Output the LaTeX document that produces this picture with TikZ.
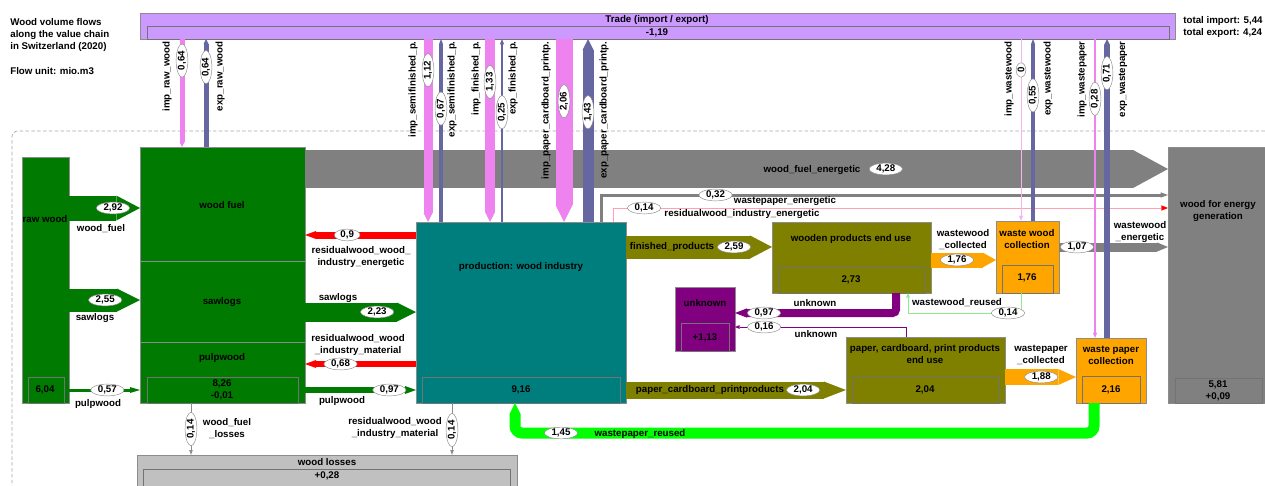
\documentclass[tikz,border=0pt]{standalone}
\usepackage{fontspec}
\setmainfont{Liberation Sans}
\usepackage{tikz}
\usetikzlibrary{arrows.meta, fit, shapes.geometric}

\definecolor{woodgreen}{RGB}{0,122,0}
\definecolor{prodteal}{RGB}{0,125,125}
\definecolor{useolive}{RGB}{128,128,0}
\definecolor{collorange}{RGB}{255,165,0}
\definecolor{unkpurple}{RGB}{128,0,128}
\definecolor{energygray}{RGB}{128,128,128}
\definecolor{lossgray}{RGB}{192,192,192}
\definecolor{tradeviolet}{RGB}{204,153,255}
\definecolor{imppink}{RGB}{238,130,238}
\definecolor{expslate}{RGB}{102,102,160}
\definecolor{resred}{RGB}{255,0,0}
\definecolor{reusegreen}{RGB}{0,255,0}
\definecolor{reuselight}{RGB}{140,235,140}
\definecolor{respink}{RGB}{255,160,180}

\begin{document}
\begin{tikzpicture}[x=0.3mm, y=-0.3mm, semithick,
    font=\fontsize{8.3}{10.2}\selectfont\bfseries,
    box/.style={draw=black!45, thin, fill=#1, inner sep=0pt, outer sep=0pt},
    inbox/.style={draw=black!55, thin, inner sep=0pt, outer sep=0pt},
    flow/.style={line width=#1*0.3mm},
    headflow/.style={-{Triangle[length=0pt #1, width=0pt 1, line width=0pt]}},
    headflow/.default=1,
    headthin/.style={-{Triangle[length=1.6mm, width=1.3mm, line width=0pt]}},
    val/.style={ellipse, draw=black!45, line width=0.4pt, fill=white, text=black, inner xsep=2pt, inner ysep=0pt},
    lbl/.style={align=center, inner sep=0pt, text=black}]
                \path[use as bounding box] (0,0) rectangle (1265,485);

                \node[lbl, anchor=west, align=left] (title) at (10,35) {Wood volume flows\\along the value chain\\in Switzerland (2020)};
                \node[lbl, anchor=west] (unit) at (10,71) {Flow unit: mio.m3};

                \node[box=tradeviolet, fit={(140,13) (1175,39)}] (trade) {};
                \node[inbox, fit={(147,26) (1169,39)}] (tradein) {};
                \node[lbl] (tradetitle) at (657,20) {Trade (import / export)};
                \node[lbl] (tradebal) at (657,33) {-1,19};
                \node[lbl, anchor=west, align=left] (totals) at (1183,27) {total import: 5,44\\total export: 4,24};

                \draw[black!35, densely dashed, rounded corners=5pt] (12,495) -- (12,131) -- (1275,131);

                \node[box=woodgreen, fit={(22,157) (69,403)}] (rawwood) {};
                \node[inbox, fit={(28,377) (64,403)}] (rawwoodin) {};
                \node[lbl] (rawwoodtitle) at (45,219) {raw wood};
                \node[lbl] (rawwoodval) at (45,390) {6,04};

                \node[box=woodgreen, fit={(140,147) (305,261)}] (woodfuel) {};
                \node[box=woodgreen, fit={(140,261) (305,342)}] (sawlogs) {};
                \node[box=woodgreen, fit={(140,342) (305,403)}] (pulpwood) {};
                \node[inbox, fit={(147,377) (298,403)}] (pulpwoodin) {};
                \node[lbl] (woodfueltitle) at (222,205) {wood fuel};
                \node[lbl] (sawlogstitle) at (222,302) {sawlogs};
                \node[lbl] (pulpwoodtitle) at (222,358) {pulpwood};
                \node[lbl] (pulpwoodval) at (222,390) {8,26\\-0,01};

                \node[box=prodteal, fit={(416,222) (626,403)}] (prod) {};
                \node[inbox, fit={(422,377) (620,403)}] (prodin) {};
                \node[lbl] (prodtitle) at (521,267) {production: wood industry};
                \node[lbl] (prodval) at (521,390) {9,16};

                \node[box=useolive, fit={(772,222) (931,293)}] (wooden) {};
                \node[inbox, fit={(778,267) (925,293)}] (woodenin) {};
                \node[lbl] (woodentitle) at (851,239) {wooden products end use};
                \node[lbl] (woodenval) at (851,280) {2,73};

                \node[box=collorange, fit={(996,221) (1059,293)}] (wwcoll) {};
                \node[inbox, fit={(1002,265) (1053,293)}] (wwcollin) {};
                \node[lbl] (wwcolltitle) at (1027,239) {waste wood\\collection};
                \node[lbl] (wwcollval) at (1027,278) {1,76};

                \node[box=energygray, fit={(1168,147) (1275,403)}] (energy) {};
                \node[inbox, fit={(1175,378) (1262,403)}] (energyin) {};
                \node[lbl] (energytitle) at (1218,211) {wood for energy\\generation};
                \node[lbl] (energyval) at (1218,391) {5,81\\+0,09};

                \node[box=unkpurple, fit={(675,287) (735,351)}] (unknown) {};
                \node[inbox, fit={(681,323) (729,351)}] (unknownin) {};
                \node[lbl] (unknowntitle) at (705,303) {unknown};
                \node[lbl] (unknownval) at (705,338) {+1,13};

                \node[box=useolive, fit={(846,337) (1005,403)}] (paper) {};
                \node[inbox, fit={(852,377) (999,403)}] (paperin) {};
                \node[lbl] (papertitle) at (925,354) {paper, cardboard, print products\\end use};
                \node[lbl] (paperval) at (925,390) {2,04};

                \node[box=collorange, fit={(1076,338) (1146,403)}] (wpcoll) {};
                \node[inbox, fit={(1082,376) (1140,403)}] (wpcollin) {};
                \node[lbl] (wpcolltitle) at (1111,355) {waste paper\\collection};
                \node[lbl] (wpcollval) at (1111,390) {2,16};

                \node[box=lossgray, fit={(137,455) (517,495)}] (losses) {};
                \node[inbox, fit={(143,469) (510,495)}] (lossesin) {};
                \node[lbl] (lossestitle) at (327,462) {wood losses};
                \node[lbl] (lossesval) at (327,476) {+0,28};

                \draw[energygray, flow=38, headflow=0.92] (woodfuel.east |- 0,169) -- (energy.west |- 0,169) node[val, pos=0.673] (v428) {4,28};
                \draw[energygray, flow=3, -{Triangle[length=2.2mm, width=1.6mm, line width=0pt]}] (prod.north -| 601,0) |- (energy.west |- 0,195) node[val, pos=0.601] (v032) {0,32};
                \draw[respink, semithick, -{Triangle[length=2mm, width=1.6mm, line width=0pt, color=resred]}] (prod.north -| 613,0) |- (energy.west |- 0,208) node[val, pos=0.528] (v014a) {0,14};

                \draw[woodgreen, flow=25, headflow=0.95] (rawwood.east |- 0,208) -- (woodfuel.west |- 0,208) node[val, pos=0.62] (v292) {2,92};
                \draw[woodgreen, flow=23, headflow] (rawwood.east |- 0,300) -- (sawlogs.west |- 0,300) node[val, pos=0.51] (v255) {2,55};
                \draw[woodgreen, flow=3, -{Triangle[length=3mm, width=1.8mm, line width=0pt]}] (rawwood.east |- 0,390) -- (pulpwood.west |- 0,390) node[val, pos=0.54] (v057) {0,57};
                \draw[woodgreen, flow=19, headflow] (sawlogs.east |- 0,312) -- (prod.west |- 0,312) node[val, pos=0.65] (v223) {2,23};
                \draw[woodgreen, flow=6, -{Triangle[length=3.3mm, width=2.4mm, line width=0pt]}] (pulpwood.east |- 0,390) -- (prod.west |- 0,390) node[val, pos=0.76] (v097a) {0,97};
                \draw[resred, flow=7, -{Triangle[length=3.3mm, width=2.4mm, line width=0pt]}] (prod.west |- 0,235) -- (woodfuel.east |- 0,235) node[val, pos=0.62] (v09) {0,9};
                \draw[resred, flow=6, -{Triangle[length=3.3mm, width=2.4mm, line width=0pt]}] (prod.west |- 0,364) -- (pulpwood.east |- 0,364) node[val, pos=0.68] (v068) {0,68};

                \draw[black!45, thin, -{Triangle[length=1.5mm, width=1.1mm, line width=0pt]}] (pulpwood.south -| 191,0) -- (losses.north -| 191,0) node[val, rotate=90, pos=0.5] (v014b) {0,14};
                \draw[black!45, thin, -{Triangle[length=1.5mm, width=1.1mm, line width=0pt]}] (prod.south -| 452,0) -- (losses.north -| 452,0) node[val, rotate=90, pos=0.52] (v014c) {0,14};

                \draw[useolive, flow=23, headflow=0.95] (prod.east |- 0,247) -- (wooden.west |- 0,247) node[val, pos=0.74] (v259) {2,59};
                \draw[useolive, flow=17, headflow=1.3] (prod.east |- 0,390) -- (paper.west |- 0,390) node[val, pos=0.805] (v204) {2,04};
                \draw[collorange, flow=15, headflow=0.9] (wooden.east |- 0,260) -- (wwcoll.west |- 0,260) node[val, pos=0.4] (v176) {1,76};
                \draw[collorange, flow=16, headflow=1.1] (paper.east |- 0,377) -- (wpcoll.west |- 0,377) node[val, pos=0.51] (v188) {1,88};
                \draw[energygray, flow=9, headflow=1.2] (wwcoll.east |- 0,247) -- (energy.west |- 0,247) node[val, pos=0.165] (v107) {1,07};

                \draw[reuselight, semithick, -{Triangle[length=1.4mm, width=1.2mm, line width=0pt]}] (wwcoll.south -| 1021,0) -- ++(0,20) -| (wooden.south -| 908,0);
                \node[val] (v014d) at (1008,313) {0,14};
                \draw[unkpurple, flow=8, rounded corners=3pt, -{Triangle[length=3.6mm, width=2.8mm, line width=0pt]}] (wooden.south -| 896,0) |- (unknown.east |- 0,313) node[val, pos=0.91] (v097b) {0,97};
                \draw[unkpurple, semithick, -{Triangle[length=1.4mm, width=1.2mm, line width=0pt]}] (paper.north -| 906,0) |- (unknown.east |- 0,327) node[val, pos=0.915] (v016) {0,16};
                \draw[reusegreen, flow=11, rounded corners=6pt, headflow] (wpcoll.south -| 1094,0) -- ++(0,30) -| (prod.south -| 515,0);
                \node[val] (v145) at (561,433) {1,45};

                \draw[imppink, flow=5, headflow] (trade.south -| 182,0) -- (woodfuel.north -| 182,0) node[val, rotate=90, pos=0.2] (vimpraw) {0,64};
                \draw[expslate, flow=5, headflow] (woodfuel.north -| 206,0) -- (trade.south -| 206,0) node[val, rotate=90, pos=0.74] (vexpraw) {0,64};
                \draw[imppink, flow=9, headflow] (trade.south -| 428,0) -- (prod.north -| 428,0) node[val, rotate=90, pos=0.17] (vimpsemi) {1,12};
                \draw[expslate, flow=4, headflow=1.3] (prod.north -| 441,0) -- (trade.south -| 441,0) node[val, rotate=90, pos=0.62] (vexpsemi) {0,67};
                \draw[imppink, flow=10, headflow] (trade.south -| 490,0) -- (prod.north -| 490,0) node[val, rotate=90, pos=0.235] (vimpfin) {1,33};
                \draw[expslate, flow=1.5, headthin] (prod.north -| 502,0) -- (trade.south -| 502,0) node[val, rotate=90, pos=0.6] (vexpfin) {0,25};
                \draw[imppink, flow=17, headflow] (trade.south -| 564,0) -- (prod.north -| 564,0) node[val, rotate=90, pos=0.34] (vimppap) {2,06};
                \draw[expslate, flow=11, headflow] (prod.north -| 588,0) -- (trade.south -| 588,0) node[val, rotate=90, pos=0.6] (vexppap) {1,43};
                \draw[imppink!60, flow=1, headthin] (trade.south -| 1021,0) -- (wwcoll.north -| 1021,0) node[val, rotate=90, pos=0.17] (vimpww) {0};
                \draw[expslate, flow=4, headflow=1.3] (wwcoll.north -| 1033,0) -- (trade.south -| 1033,0) node[val, rotate=90, pos=0.69] (vexpww) {0,55};
                \draw[imppink, flow=1.5, headthin] (trade.south -| 1095,0) -- (wpcoll.north -| 1095,0) node[val, rotate=90, pos=0.2] (vimpwp) {0,28};
                \draw[expslate, flow=6, headflow] (wpcoll.north -| 1107,0) -- (trade.south -| 1107,0) node[val, rotate=90, pos=0.886] (vexpwp) {0,71};

                \node[lbl] (lfuelen) at (812,170) {wood\_fuel\_energetic};
                \node[lbl] (lwpen) at (785,201) {wastepaper\_energetic};
                \node[lbl] (lresen) at (742,214) {residualwood\_industry\_energetic};
                \node[lbl] (lwoodfuel) at (101,229) {wood\_fuel};
                \node[lbl] (lsawlogs1) at (95,318) {sawlogs};
                \node[lbl] (lpulp1) at (98,404) {pulpwood};
                \node[lbl] (lreswood) at (361,257) {residualwood\_wood\_\\industry\_energetic};
                \node[lbl] (lsawlogs2) at (338,298) {sawlogs};
                \node[lbl] (lresmat) at (358,345) {residualwood\_wood\\\_industry\_material};
                \node[lbl] (lpulp2) at (342,401) {pulpwood};
                \node[lbl] (lloss1) at (227,429) {wood\_fuel\\\_losses};
                \node[lbl] (lloss2) at (395,428) {residualwood\_wood\\\_industry\_material};
                \node[lbl] (lfinished) at (672,247) {finished\_products};
                \node[lbl] (lpaperprod) at (710,390) {paper\_cardboard\_printproducts};
                \node[lbl] (lwwcoll) at (963,240) {wastewood\\\_collected};
                \node[lbl] (lwpcoll) at (1041,355) {wastepaper\\\_collected};
                \node[lbl] (lwwen) at (1140,232) {wastewood\\\_energetic};
                \node[lbl] (lwwreused) at (957,303) {wastewood\_reused};
                \node[lbl] (lunk1) at (815,303) {unknown};
                \node[lbl] (lunk2) at (816,334) {unknown};
                \node[lbl] (lwpreused) at (640,434) {wastepaper\_reused};

                \node[lbl, rotate=90, anchor=east] (limpraw) at (167,41) {imp\_raw\_wood};
                \node[lbl, rotate=90, anchor=east] (lexpraw) at (220,41) {exp\_raw\_wood};
                \node[lbl, rotate=90, anchor=east] (limpsemi) at (413,41) {imp\_semifinished\_p.};
                \node[lbl, rotate=90, anchor=east] (lexpsemi) at (452,41) {exp\_semifinished\_p.};
                \node[lbl, rotate=90, anchor=east] (limpfin) at (476,41) {imp\_finished\_p.};
                \node[lbl, rotate=90, anchor=east] (lexpfin) at (513,41) {exp\_finished\_p.};
                \node[lbl, rotate=90, anchor=east] (limppap) at (546,41) {imp\_paper\_cardboard\_printp.};
                \node[lbl, rotate=90, anchor=east] (lexppap) at (604,41) {exp\_paper\_cardboard\_printp.};
                \node[lbl, rotate=90, anchor=east] (limpww) at (1009,41) {imp\_wastewood};
                \node[lbl, rotate=90, anchor=east] (lexpww) at (1048,41) {exp\_wastewood};
                \node[lbl, rotate=90, anchor=east] (limpwp) at (1082,41) {imp\_wastepaper};
                \node[lbl, rotate=90, anchor=east] (lexpwp) at (1123,41) {exp\_wastepaper};
            \end{tikzpicture}
\end{document}
